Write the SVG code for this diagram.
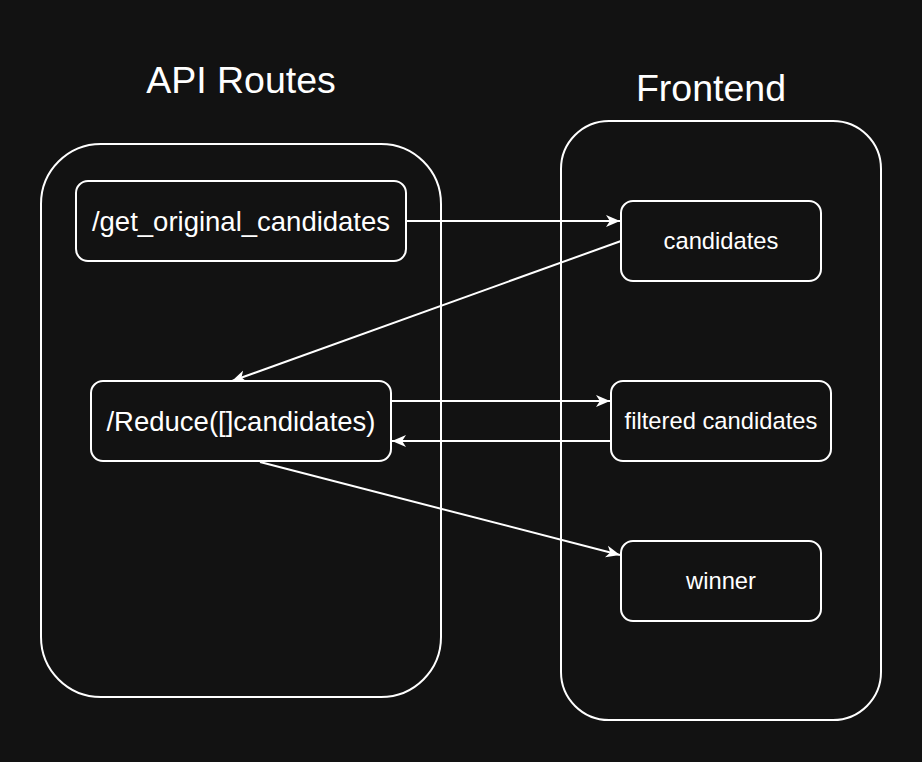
<svg xmlns="http://www.w3.org/2000/svg" width="922" height="762" viewBox="0 0 922 762">
<defs>
<style>
.bg{fill:#121212}
.box{fill:#121212;stroke:#ffffff;stroke-width:2}
.title{font-family:"Liberation Sans",Arial,Helvetica,sans-serif;font-size:37.5px;fill:#ffffff;text-anchor:middle}
.big{font-family:"Liberation Sans",Arial,Helvetica,sans-serif;font-size:27.5px;fill:#ffffff;text-anchor:middle}
.small{font-family:"Liberation Sans",Arial,Helvetica,sans-serif;font-size:23.75px;fill:#ffffff;text-anchor:middle}
.edge{fill:none;stroke:#ffffff;stroke-width:2;marker-end:url(#arrow)}
</style>
<marker id="arrow" viewBox="0 0 10 10" refX="10" refY="5" markerWidth="14" markerHeight="14" markerUnits="userSpaceOnUse" orient="auto">
<path d="M0,0.7 L10,5 L0,9.3 L2.8,5 Z" fill="#ffffff"/>
</marker>
</defs>
<rect class="bg" x="0" y="0" width="922" height="762"/>
<g id="api-routes">
<rect class="box" x="41" y="144" width="400" height="553" rx="60" ry="60"/>
<text class="title" x="241" y="93">API Routes</text>
</g>
<g id="frontend">
<rect class="box" x="561" y="121" width="320" height="599" rx="48" ry="48"/>
<text class="title" x="711" y="101">Frontend</text>
</g>
<g id="get-original-candidates">
<rect class="box" x="76" y="181" width="330" height="80" rx="12" ry="12"/>
<text class="big" x="241" y="231">/get_original_candidates</text>
</g>
<g id="reduce">
<rect class="box" x="91" y="381" width="300" height="80" rx="12" ry="12"/>
<text class="big" x="241" y="431">/Reduce([]candidates)</text>
</g>
<g id="candidates">
<rect class="box" x="621" y="201" width="200" height="80" rx="12" ry="12"/>
<text class="small" x="721" y="249">candidates</text>
</g>
<g id="filtered-candidates">
<rect class="box" x="611" y="381" width="220" height="80" rx="12" ry="12"/>
<text class="small" x="721" y="429">filtered candidates</text>
</g>
<g id="winner">
<rect class="box" x="621" y="541" width="200" height="80" rx="12" ry="12"/>
<text class="small" x="721" y="589">winner</text>
</g>
<g id="connectors">
<line class="edge" x1="406" y1="221" x2="620" y2="221"/>
<line class="edge" x1="621" y1="241" x2="232" y2="381"/>
<line class="edge" x1="391" y1="401" x2="610" y2="401"/>
<line class="edge" x1="611" y1="441" x2="392" y2="441"/>
<line class="edge" x1="260" y1="462" x2="620" y2="555"/>
</g>
</svg>
